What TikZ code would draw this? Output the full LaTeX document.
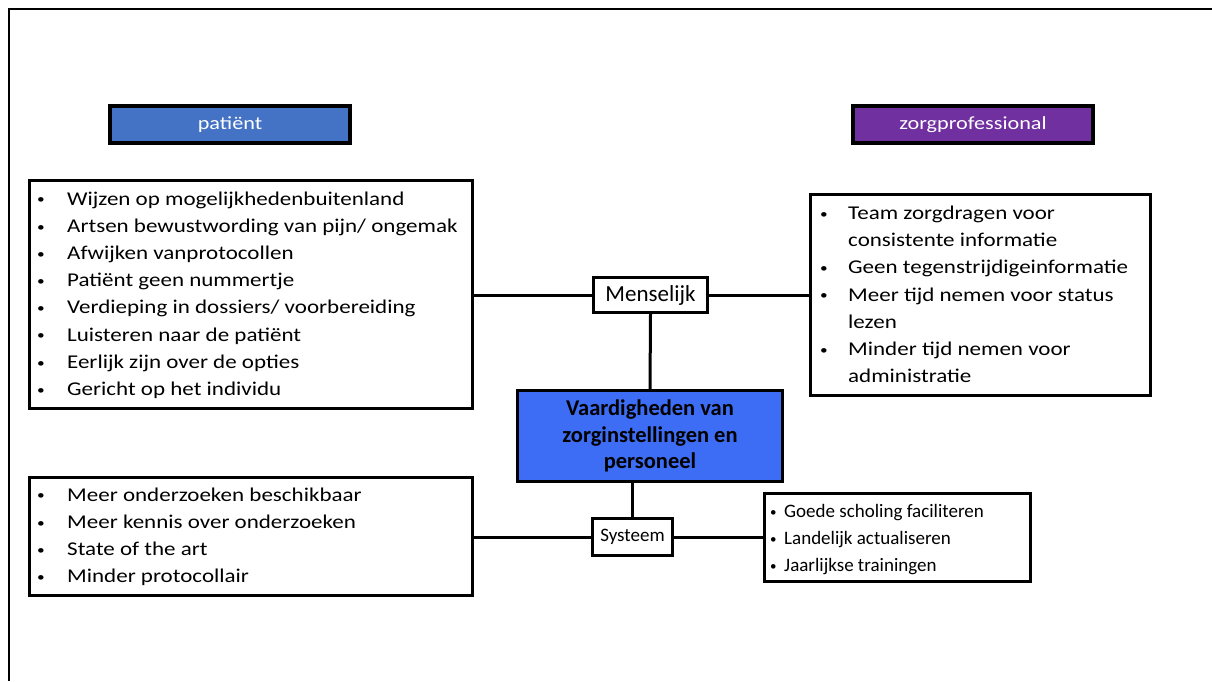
\documentclass[tikz,border=0pt]{standalone}
\usepackage{fontspec}
\setmainfont{Carlito}
\newfontfamily\widefont[FakeStretch=1.2]{Carlito}
\newfontfamily\listfont[FakeStretch=1.18]{Carlito}
\definecolor{patblue}{RGB}{68,114,196}
\definecolor{profpurple}{RGB}{112,48,160}
\definecolor{coreblue}{RGB}{61,108,245}
% bullet list helpers: one line with a bullet, one continuation line
\newlength\bulw
\newcommand\smallbul{\raisebox{1.2pt}{\fontsize{13pt}{13pt}\selectfont •}}
\newcommand\litem[1]{\hbox{\makebox[\bulw][l]{\smallbul}#1}}
\newcommand\lcont[1]{\hbox{\hspace*{\bulw}#1}}
\begin{document}
\begin{tikzpicture}[x=1pt,y=-1pt,
  listbox/.style={draw,line width=3pt,fill=white,inner sep=0pt},
  header/.style={draw,line width=4pt,inner sep=0pt,text=white,
    font=\widefont\fontsize{18.5pt}{22pt}\selectfont},
  hub/.style={draw,line width=3pt,fill=white,inner sep=0pt},
  listtext/.style={anchor=base west,inner sep=0pt},
  link/.style={line width=3pt}]
\useasboundingbox (0,0) rectangle (1212,681);

% outer frame
\draw[line width=1.5pt] (9,681) -- (9,9) -- (1212,9);

% column headers
\node[header,fill=patblue,minimum width=240pt,minimum height=37pt] (pat) at (230,124.5) {patiënt};
\node[header,fill=profpurple,minimum width=240pt,minimum height=37pt] (prof) at (973,124.5) {zorgprofessional};

% list boxes
\node[listbox,minimum width=443pt,minimum height=228pt] (lt) at (251,294.5) {};
\node[listbox,minimum width=340pt,minimum height=201pt] (rt) at (980.5,295) {};
\node[listbox,minimum width=443pt,minimum height=118pt] (lb) at (251,536.5) {};
\node[listbox,minimum width=266pt,minimum height=88pt] (rb) at (897.5,537.5) {};

% central box and the two hubs
\node[draw,line width=3pt,fill=coreblue,inner sep=0pt,minimum width=265pt,minimum height=91pt,
  align=center,font=\bfseries\fontsize{22.5pt}{26.7pt}\selectfont] (core) at (650,436)
  {Vaardigheden van\\zorginstellingen en\\personeel};
\node[hub,minimum width=114pt,minimum height=35pt,font=\fontsize{23pt}{26pt}\selectfont] (mens) at (650.5,295) {Menselijk};
\node[hub,minimum width=80pt,minimum height=37pt,font=\fontsize{19pt}{22pt}\selectfont] (sys) at (632.5,537) {Systeem};

% list texts
\node[listtext,font=\listfont\fontsize{19.5pt}{27.2pt}\selectfont] (ltt) at (37,205)
  {\setlength\bulw{30pt}\vtop{%
    \litem{Wijzen op mogelijkhedenbuitenland}
    \litem{Artsen bewustwording van pijn/ ongemak}
    \litem{Afwijken vanprotocollen}
    \litem{Patiënt geen nummertje}
    \litem{Verdieping in dossiers/ voorbereiding}
    \litem{Luisteren naar de patiënt}
    \litem{Eerlijk zijn over de opties}
    \litem{Gericht op het individu}}};
\node[listtext,font=\listfont\fontsize{19.5pt}{27.2pt}\selectfont] (rtt) at (820,219.5)
  {\setlength\bulw{28pt}\vtop{%
    \litem{Team zorgdragen voor}
    \lcont{consistente informatie}
    \litem{Geen tegenstrijdigeinformatie}
    \litem{Meer tijd nemen voor status}
    \lcont{lezen}
    \litem{Minder tijd nemen voor}
    \lcont{administratie}}};
\node[listtext,font=\listfont\fontsize{19.5pt}{27.2pt}\selectfont] (lbt) at (37,501)
  {\setlength\bulw{30pt}\vtop{%
    \litem{Meer onderzoeken beschikbaar}
    \litem{Meer kennis over onderzoeken}
    \litem{State of the art}
    \litem{Minder protocollair}}};
\node[listtext,font=\fontsize{19pt}{27.2pt}\selectfont] (rbt) at (770,517.3)
  {\setlength\bulw{14pt}\vtop{%
    \litem{Goede scholing faciliteren}
    \litem{Landelijk actualiseren}
    \litem{Jaarlijkse trainingen}}};

% connectors
\draw[link] (mens.west) -- (mens.west -| lt.east);
\draw[link] (mens.east) -- (mens.east -| rt.west);
\draw[link] (mens.south) -- (core.north);
\draw[link] (sys.north) -- (sys.north |- core.south);
\draw[link] (sys.west) -- (sys.west -| lb.east);
\draw[link] (sys.east) -- (sys.east -| rb.west);
\end{tikzpicture}
\end{document}
